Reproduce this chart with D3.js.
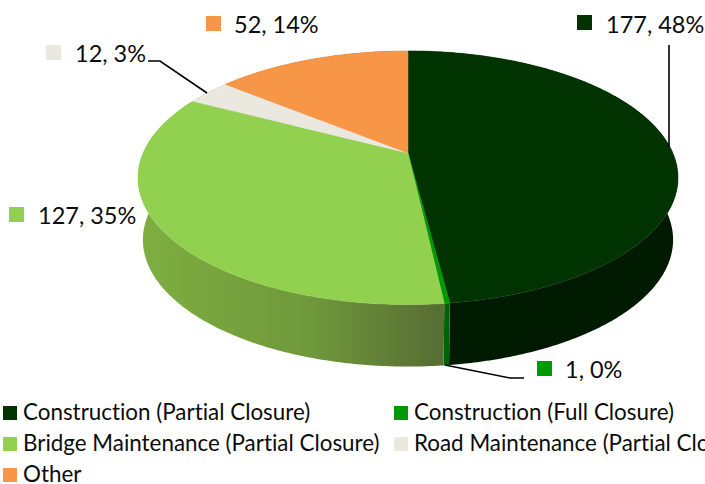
<!DOCTYPE html>
<html>
<head>
<meta charset="utf-8">
<script src="https://cdnjs.cloudflare.com/ajax/libs/d3/7.8.5/d3.min.js"></script>
<style>
    html, body { margin: 0; padding: 0; background: #fff; overflow: hidden; }
    svg { display: block; }
    text { font-family: Lato, "Noto Sans", sans-serif; fill: #0c0c0c; font-variant-ligatures: none; }
</style>
</head>
<body>
<svg id="chart" width="705" height="484"></svg>
<script>
var categories = ["Construction (Partial Closure)", "Construction (Full Closure)", "Bridge Maintenance (Partial Closure)", "Road Maintenance (Partial Closure)", "Other"];
var values = [177, 1, 127, 12, 52];
var percents = ["48%", "0%", "35%", "3%", "14%"];

var topColors = ["#003300", "#009900", "#92d050", "#ebe9df", "#f79646"];
var sideColors = ["#001a00", "#006200", "url(#bridgeSide)", "#8f8d85", "#96592a"];

// where each data label goes (swatch left, swatch top, text left, baseline)
var labelPos = [[577, 15, 606, 33], [537, 361, 565, 378], [9, 207, 38, 224], [46, 45, 75, 62], [206, 16, 234, 33]];
var leaders = [
    [[669, 45], [669, 147]],
    [[445, 365], [510, 378], [524, 378]],
    null,
    [[148, 61], [160, 61], [207, 93]],
    null
];
var legendPos = [[3, 406], [394, 406], [3, 437], [394, 437], [3, 468]];

var svg = d3.select("#chart");

// pie is tilted with some perspective, so the centre sits above the middle of the ellipse
var cx = 408, cy = 153, depth = 62;
var persp = -0.195, ry = 122, rxTop = 264.8, rxBottom = 260;

function rim(angle, rx, dy) {
    var u = Math.sin(angle), v = -Math.cos(angle);
    var w = 1 + persp * v;
    return [cx + rx * u / w, cy + dy + ry * v / w];
}

function arcAngles(d) {
    var n = Math.max(2, Math.ceil((d.endAngle - d.startAngle) / 0.01));
    return d3.range(n + 1).map(function (i) {
        return d.startAngle + (d.endAngle - d.startAngle) * i / n;
    });
}

var pie = d3.pie().sort(null).value(function (d) { return d; });
var slices = pie(values);
var line = d3.line();

var grad = svg.append("defs").append("linearGradient")
    .attr("id", "bridgeSide")
    .attr("gradientUnits", "userSpaceOnUse")
    .attr("x1", 140).attr("x2", 445).attr("y1", 0).attr("y2", 0);
grad.append("stop").attr("offset", "0").attr("stop-color", "#7eae40");
grad.append("stop").attr("offset", "0.55").attr("stop-color", "#70993b");
grad.append("stop").attr("offset", "1").attr("stop-color", "#566c33");

// sides first, the top face covers the back part of them
svg.append("g").selectAll("path")
    .data(slices)
    .enter().append("path")
    .attr("d", function (d) {
        var a = arcAngles(d);
        var upper = a.map(function (t) { return rim(t, rxTop, 0); });
        var lower = a.slice().reverse().map(function (t) { return rim(t, rxBottom, depth); });
        return line(upper.concat(lower)) + "Z";
    })
    .attr("fill", function (d, i) { return sideColors[i]; });

svg.append("g").selectAll("path")
    .data(slices)
    .enter().append("path")
    .attr("d", function (d) {
        var pts = arcAngles(d).map(function (t) { return rim(t, rxTop, 0); });
        return line([[cx, cy]].concat(pts)) + "Z";
    })
    .attr("fill", function (d, i) { return topColors[i]; })
    .attr("stroke", function (d, i) { return topColors[i]; })
    .attr("stroke-width", 0.5);

svg.append("g").selectAll("path")
    .data(leaders.filter(function (d) { return d; }))
    .enter().append("path")
    .attr("d", function (d) { return line(d); })
    .attr("fill", "none")
    .attr("stroke", "#000")
    .attr("stroke-width", 1.6);

// data labels
var labels = svg.append("g").selectAll("g")
    .data(values)
    .enter().append("g");
labels.append("rect")
    .attr("x", function (d, i) { return labelPos[i][0]; })
    .attr("y", function (d, i) { return labelPos[i][1]; })
    .attr("width", 15).attr("height", 15)
    .attr("fill", function (d, i) { return topColors[i]; });
labels.append("text")
    .attr("x", function (d, i) { return labelPos[i][2]; })
    .attr("y", function (d, i) { return labelPos[i][3]; })
    .attr("font-size", 23.5)
    .text(function (d, i) { return d + ", " + percents[i]; });

// legend
var legend = svg.append("g").selectAll("g")
    .data(categories)
    .enter().append("g");
legend.append("rect")
    .attr("x", function (d, i) { return legendPos[i][0]; })
    .attr("y", function (d, i) { return legendPos[i][1]; })
    .attr("width", 14).attr("height", 14)
    .attr("fill", function (d, i) { return topColors[i]; });
legend.append("text")
    .attr("x", function (d, i) { return legendPos[i][0] + 20; })
    .attr("y", function (d, i) { return legendPos[i][1] + 14; })
    .attr("font-size", 22.4)
    .text(function (d) { return d; });
</script>
</body>
</html>
